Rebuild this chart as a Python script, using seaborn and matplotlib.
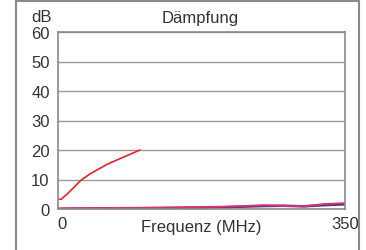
import matplotlib
matplotlib.use("Agg")
import matplotlib.pyplot as plt
import matplotlib.transforms as mtransforms
import seaborn as sns
from matplotlib.patches import Rectangle

# ---- data ----
red_freq = [0, 4, 8, 11, 16, 20, 27, 39, 50, 61, 80, 100]
red_db = [3.3, 3.3, 4.3, 5.0, 6.4, 7.5, 9.5, 11.9, 13.6, 15.3, 17.6, 20.0]

low_freq = [1, 10, 25, 50, 75, 100, 125, 150, 175, 200, 225, 250, 275, 300, 325, 350]
purple_db = [0.1, 0.15, 0.2, 0.25, 0.3, 0.35, 0.4, 0.45, 0.55, 0.65, 0.9, 1.1, 1.2, 1.0, 1.5, 1.7]
pink_db = [0.2, 0.25, 0.3, 0.35, 0.4, 0.45, 0.5, 0.6, 0.7, 0.8, 1.0, 1.3, 1.1, 0.9, 1.7, 2.0]
blue_db = [0.0, 0.05, 0.1, 0.15, 0.2, 0.25, 0.3, 0.35, 0.45, 0.55, 0.7, 0.9, 1.0, 0.8, 1.2, 1.5]

y_ticks = [0, 10, 20, 30, 40, 50, 60]
x_ticks = [0, 350]

sns.set_style("white")
plt.rcParams['font.family'] = ['Liberation Sans', 'DejaVu Sans']
plt.rcParams['font.size'] = 12

W, H = 366, 251
fig = plt.figure(figsize=(W / 100, H / 100), dpi=100)
ax = fig.add_axes([58 / W, 1 - 210 / H, (345 - 58) / W, (210 - 33) / H])

# outer frame
fig.patches.append(Rectangle((16 / W, -0.2), (359 - 16) / W, 1.2 - 2 / H,
                             transform=fig.transFigure, fill=False,
                             edgecolor='#8a8a8a', linewidth=1.5))

sns.lineplot(x=low_freq, y=blue_db, ax=ax, color='#3c3c9c', linewidth=1.4)
sns.lineplot(x=low_freq, y=purple_db, ax=ax, color='#7a2a66', linewidth=1.4)
sns.lineplot(x=low_freq, y=pink_db, ax=ax, color='#d8336e', linewidth=1.3)
sns.lineplot(x=red_freq, y=red_db, ax=ax, color='#e8202a', linewidth=1.2)

ax.set_xlim(0, 350)
ax.set_ylim(0, 60)
ax.set_yticks(y_ticks)
ax.set_xticks(x_ticks)
ax.set_xticklabels(['0', '350'])
ax.tick_params(length=0, labelsize=12, colors='#333333', pad=6)
ax.tick_params(axis='x', pad=5)
ax.yaxis.grid(True, color='#9a9a9a', linewidth=1)
ax.xaxis.grid(False)
for s in ax.spines.values():
    s.set_color('#8a8a8a')
    s.set_linewidth(1.2)
ax.set_xlabel('')
ax.set_ylabel('')

# the "0" label sits a few pixels right of the axis start in the reference
zero_lbl = ax.get_xticklabels()[0]
zero_lbl.set_transform(zero_lbl.get_transform() +
                       mtransforms.ScaledTranslation(4 / 100, 0, fig.dpi_scale_trans))

fig.text(201 / W, 1 - 228 / H, 'Frequenz (MHz)', ha='center', va='center',
         fontsize=12, color='#333333')
fig.text(42 / W, 1 - 18 / H, 'dB', ha='center', va='center', fontsize=12, color='#333333')
fig.text(200 / W, 1 - 18 / H, 'Dämpfung', ha='center', va='center', fontsize=12, color='#333333')

fig.savefig('out.png', dpi=100)
